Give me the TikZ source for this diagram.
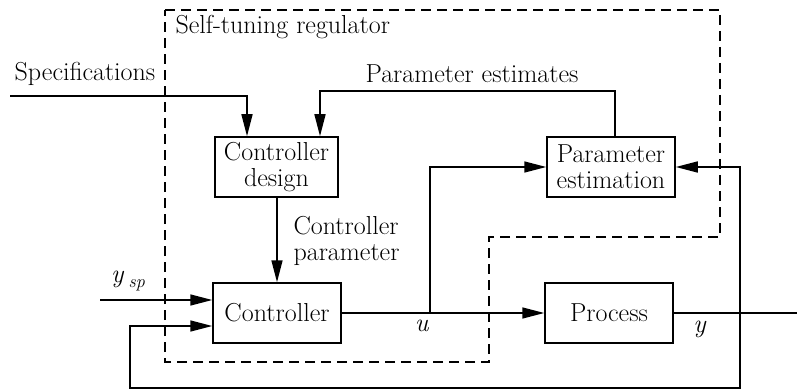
\documentclass[tikz,border=0pt]{standalone}
\usepackage{fontspec}
\usetikzlibrary{arrows.meta}
\begin{document}
\begin{tikzpicture}[x=1pt,y=-1pt,
  every node/.style={font=\fontsize{26}{26}\selectfont},
  blk/.style={draw, line width=1.5pt, minimum height=60pt, align=center, inner sep=1pt},
  wire/.style={line width=1.5pt},
  arr/.style={wire, -{Triangle[length=22pt,width=11pt]}},
  bound/.style={line width=1.5pt, dash pattern=on 10pt off 6pt}]
\useasboundingbox (0,0) rectangle (797,390);
% blocks
\node[blk, minimum width=123pt] (cd) at (276.5,167) {Controller\\design};
\node[blk, minimum width=128pt] (pe) at (611,167) {Parameter\\estimation};
\node[blk, minimum width=128pt] (ctrl) at (277,313) {Controller};
\node[blk, minimum width=128pt] (proc) at (609,313) {Process};
% boundary
\draw[bound] (165,10) -- (720,10) -- (720,237) -- (489,237) -- (489,362) -- (165,362) -- cycle;
% labels
\node[anchor=west] (stl) at (172,27) {Self-tuning regulator};
\node (spl) at (85,74) {Specifications};
\node (pel) at (472,74) {Parameter estimates};
\node[anchor=west, align=left] (cpl) at (290,241) {Controller\\parameter};
\node (ysp) at (128,281) {\textit{y}\,\raisebox{-5pt}{\fontsize{18}{20}\selectfont\textit{sp}}};
\node (ul) at (422,326) {\textit{u}};
\node (yl) at (700,329) {\textit{y}};
% coordinates
\coordinate (specin) at (10,96);
\coordinate (specx) at (247,96);
\coordinate (petop) at (615,91);
\coordinate (pex) at (320,91);
\coordinate (ubr) at (430,313);
\coordinate (ybr) at (740,313);
\coordinate (yout) at (797,313);
\coordinate (yspin) at (100,300);
\coordinate (fbb) at (740,388);
\coordinate (fbl) at (130,388);
\coordinate (fbt) at (130,326);
% connectors
\draw[arr] (specin) -- (specx) -- (specx |- cd.north);
\draw[arr] (petop |- pe.north) -- (petop) -- (pex) -- (pex |- cd.north);
\draw[arr] (cd.south -| ctrl.north) -- (ctrl.north);
\draw[arr] (ctrl.east) -- (proc.west);
\draw[arr] (ubr) |- (pe.west);
\draw[wire] (proc.east) -- (yout);
\draw[arr] (ybr) |- (pe.east);
\draw[arr] (yspin) -- (yspin -| ctrl.west);
\draw[arr] (ybr) -- (fbb) -- (fbl) -- (fbt) -- (fbt -| ctrl.west);
\end{tikzpicture}
\end{document}
